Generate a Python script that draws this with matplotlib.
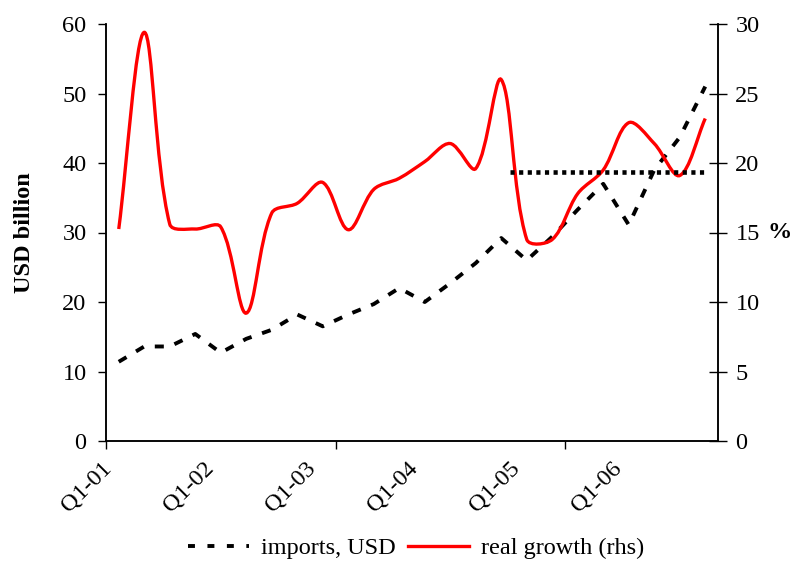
import numpy as np
import matplotlib
matplotlib.use("Agg")
import matplotlib.pyplot as plt
from matplotlib.path import Path
from matplotlib.patches import PathPatch
from matplotlib.lines import Line2D
import matplotlib.transforms as mtransforms

plt.rcParams["font.family"] = ["Liberation Serif", "DejaVu Serif"]
plt.rcParams["lines.scale_dashes"] = False

# quarterly data, Q1-01 .. Q4-06
imports = [11.4, 13.6, 13.6, 15.4, 12.7, 14.7, 16.0, 18.2, 16.5, 18.2, 19.7, 22.0,
           20.0, 22.7, 25.6, 29.2, 26.0, 29.4, 33.3, 37.0, 31.1, 39.0, 43.7, 51.0]
growth = [15.25, 29.4, 15.6, 15.25, 15.4, 9.2, 16.4, 17.1, 18.6, 15.2, 18.1, 18.9,
          20.1, 21.4, 19.6, 26.0, 14.5, 14.5, 17.8, 19.5, 22.9, 21.4, 19.1, 23.2]
avg_span = [15.35, 23]      # dotted reference line, start/end (quarter index)
avg_level = 19.35           # % (rhs)
label_pos = [0, 4, 8, 12, 16, 20]
tick_labels = ["Q1-01", "Q1-02", "Q1-03", "Q1-04", "Q1-05", "Q1-06"]
tickmark_pos = [-0.5, 8.5, 17.5]

FS = 17.5
fig = plt.figure(figsize=(7.94, 5.61), dpi=100)
ax = fig.add_axes([106/794, 120/561, 612/794, 417/561])
ax2 = ax.twinx()
ax.set_xlim(-0.5, 23.5)
ax.set_ylim(0, 60); ax2.set_ylim(0, 30)

x = np.arange(len(imports))
ax.plot(x, imports, color="black", lw=2.8, dashes=(6.5, 8), solid_capstyle="butt")

# excel-style smoothed line (bezier, control points scaled by chord lengths on screen)
P = ax2.transData.transform(np.column_stack([x, growth]))
E = np.vstack([P[0], P, P[-1]])
t = 1/3
cin, cout = [], []
for i in range(len(P)):
    p0, p1, p2 = E[i], E[i+1], E[i+2]
    d01 = np.hypot(*(p1 - p0)); d12 = np.hypot(*(p2 - p1))
    s = d01 + d12 if d01 + d12 > 0 else 1
    cin.append(p1 - t*d01/s*(p2 - p0))
    cout.append(p1 + t*d12/s*(p2 - p0))
verts = [P[0]]; codes = [Path.MOVETO]
for i in range(len(P) - 1):
    verts += [cout[i], cin[i+1], P[i+1]]
    codes += [Path.CURVE4]*3
verts = ax2.transData.inverted().transform(np.array(verts))
ax2.add_patch(PathPatch(Path(verts, codes), fill=False, edgecolor="#ff0000", lw=2.4))
ax2.plot(avg_span, [avg_level, avg_level], color="black", lw=3.3, dashes=(3, 3.2),
         dash_capstyle="butt")

ax.set_yticks(range(0, 61, 10)); ax2.set_yticks(range(0, 31, 5))
ax.set_xticks(tickmark_pos); ax.set_xticklabels([])
ax.set_xticks(label_pos, minor=True)
ax.set_xticklabels(tick_labels, minor=True, rotation=45, ha="right",
                   rotation_mode="anchor", fontsize=FS)
ax.set_xlim(-0.5, 23.5)
ax.tick_params(axis="x", which="major", direction="out", length=6, width=1)
ax.tick_params(axis="x", which="minor", length=0, pad=7)
ax.tick_params(axis="y", direction="out", length=6, width=1, labelsize=FS, pad=8)
ax2.tick_params(axis="y", direction="inout", length=13, width=1, labelsize=FS, pad=6)

for a in (ax, ax2):
    a.spines["top"].set_visible(False)
    for s in ("left", "right", "bottom"):
        a.spines[s].set_linewidth(1.1)

ax.set_ylabel("USD billion", fontsize=FS, fontweight="bold", labelpad=20)
ax2.set_ylabel("%", fontsize=FS, fontweight="bold", rotation=0, va="center", labelpad=14)

handles = [Line2D([], [], color="black", lw=2.8, dashes=(5, 9)),
           Line2D([], [], color="#ff0000", lw=2.4)]
fig.legend(handles, ["imports, USD", "real growth (rhs)"], loc="center",
           bbox_to_anchor=(416/794, 1 - 548/561), ncol=2, frameon=False,
           fontsize=FS, handlelength=2.5, handletextpad=0.5, columnspacing=0.5)

# shift rotated labels left/down (after tick_params, which resets transforms)
off = mtransforms.ScaledTranslation(-18/100, -7/100, fig.dpi_scale_trans)
for tl in ax.get_xticklabels(minor=True):
    tl.set_transform(tl.get_transform() + off)

fig.savefig("out.png", dpi=100)
